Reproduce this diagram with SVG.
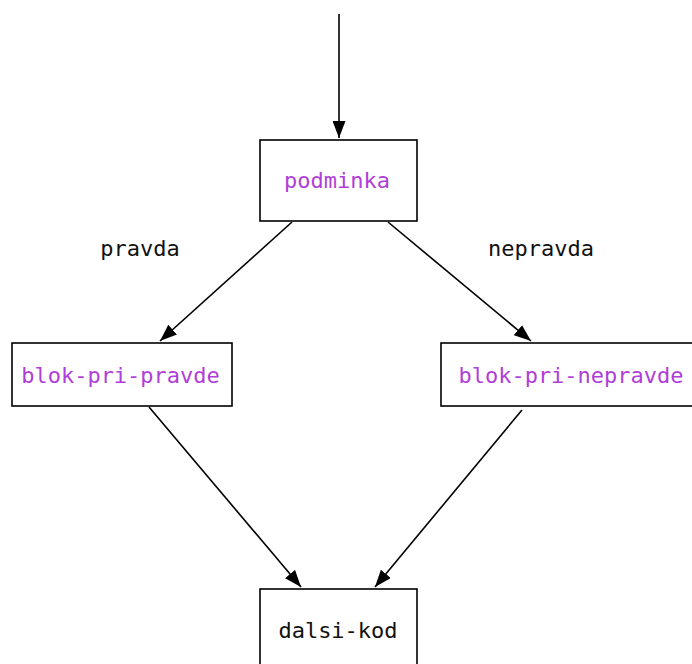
<svg xmlns="http://www.w3.org/2000/svg" width="692" height="664" viewBox="0 0 692 664">
<style>
.box{fill:#fff;stroke:#000;stroke-width:1.6}
.t{font-family:"DejaVu Sans Mono","Liberation Mono",monospace;font-size:22px;text-anchor:middle;dominant-baseline:central}
.p{fill:#b03ed8}
.k{fill:#111}
.e{stroke:#000;stroke-width:1.6;fill:none;marker-end:url(#a)}
</style>
<defs>
<marker id="a" viewBox="0 0 17 13" refX="17" refY="6.5" markerWidth="17" markerHeight="13" markerUnits="userSpaceOnUse" orient="auto">
<path d="M0,0 L17,6.5 L0,13 Z" fill="#000"/>
</marker>
</defs>
<rect width="692" height="664" fill="#fff"/>
<g id="connectors">
<line class="e" x1="339" y1="14" x2="339" y2="138"/>
<line class="e" x1="292" y1="222" x2="160" y2="341"/>
<line class="e" x1="388" y1="222" x2="531" y2="341"/>
<line class="e" x1="149" y1="407" x2="301" y2="587"/>
<line class="e" x1="522" y1="410" x2="375" y2="587"/>
<text class="t k" x="140" y="248">pravda</text>
<text class="t k" x="541" y="248">nepravda</text>
</g>
<g id="podminka">
<rect class="box" x="260" y="140" width="157" height="81"/>
<text class="t p" x="337" y="180">podminka</text>
</g>
<g id="blok-pri-pravde">
<rect class="box" x="12" y="343" width="220" height="63"/>
<text class="t p" x="120.5" y="375">blok-pri-pravde</text>
</g>
<g id="blok-pri-nepravde">
<rect class="box" x="441" y="343" width="260" height="63"/>
<text class="t p" x="571" y="375">blok-pri-nepravde</text>
</g>
<g id="dalsi-kod">
<rect class="box" x="260" y="589" width="157" height="90"/>
<text class="t k" x="338" y="630">dalsi-kod</text>
</g>
</svg>
